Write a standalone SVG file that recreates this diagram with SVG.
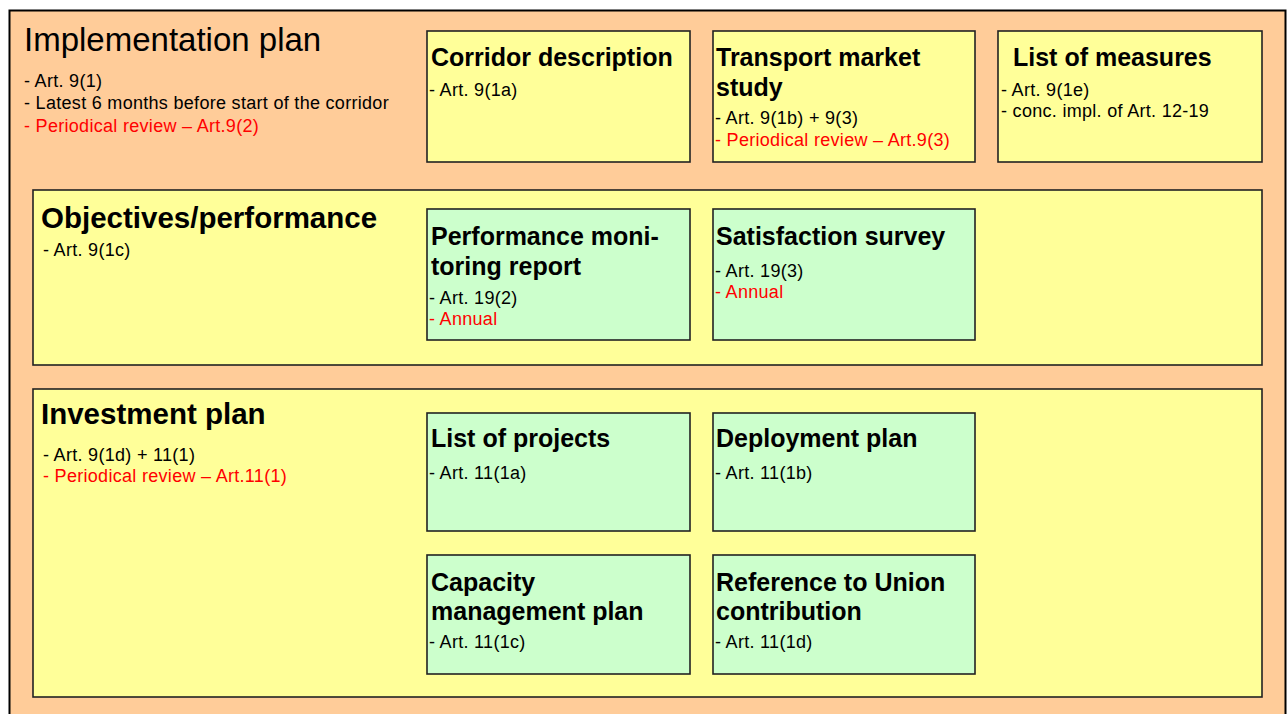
<svg xmlns="http://www.w3.org/2000/svg" width="1288" height="714" viewBox="0 0 1288 714">
<style>
.box{stroke:#222;stroke-width:1.6}
.peach{fill:#FFCC99}
.yel{fill:#FFFF99}
.grn{fill:#CCFFCC}
text{font-family:"Liberation Sans",Arial,sans-serif;fill:#000}
.h1{font-size:33px}
.h2{font-size:29.5px;font-weight:bold}
.h3{font-size:25px;font-weight:bold}
.s{font-size:18px;letter-spacing:0.3px}
.r{fill:#FF0000}
</style>
<rect width="1288" height="714" fill="#fff"/>
<g id="implementation-plan">
<rect x="9.5" y="10.5" width="1276" height="720" class="peach" stroke="#000" stroke-width="2"/>
<text x="24" y="51" class="h1">Implementation plan</text>
<text x="24" y="87" class="s">- Art. 9(1)</text>
<text x="24" y="109" class="s">- Latest 6 months before start of the corridor</text>
<text x="24" y="132" class="s r">- Periodical review – Art.9(2)</text>
</g>
<g id="corridor-description">
<rect x="427" y="31" width="263" height="131" class="box yel"/>
<text x="431" y="66" class="h3">Corridor description</text>
<text x="429" y="96" class="s">- Art. 9(1a)</text>
</g>
<g id="transport-market-study">
<rect x="713" y="31" width="262" height="131" class="box yel"/>
<text x="716" y="66" class="h3">Transport market</text>
<text x="716" y="96" class="h3">study</text>
<text x="715" y="124" class="s">- Art. 9(1b) + 9(3)</text>
<text x="715" y="146" class="s r">- Periodical review – Art.9(3)</text>
</g>
<g id="list-of-measures">
<rect x="998" y="31" width="264" height="131" class="box yel"/>
<text x="1013" y="66" class="h3">List of measures</text>
<text x="1001" y="96" class="s">- Art. 9(1e)</text>
<text x="1001" y="117" class="s">- conc. impl. of Art. 12-19</text>
</g>
<g id="objectives-performance">
<rect x="33" y="190" width="1229" height="175" class="box yel"/>
<text x="41" y="228" class="h2">Objectives/performance</text>
<text x="43" y="256" class="s">- Art. 9(1c)</text>
</g>
<g id="performance-monitoring-report">
<rect x="427" y="209" width="263" height="131" class="box grn"/>
<text x="431" y="245" class="h3">Performance moni-</text>
<text x="431" y="275" class="h3">toring report</text>
<text x="429" y="304" class="s">- Art. 19(2)</text>
<text x="429" y="325" class="s r">- Annual</text>
</g>
<g id="satisfaction-survey">
<rect x="713" y="209" width="262" height="131" class="box grn"/>
<text x="716" y="245" class="h3">Satisfaction survey</text>
<text x="715" y="277" class="s">- Art. 19(3)</text>
<text x="715" y="298" class="s r">- Annual</text>
</g>
<g id="investment-plan">
<rect x="33" y="389" width="1229" height="308" class="box yel"/>
<text x="41" y="424" class="h2">Investment plan</text>
<text x="43" y="461" class="s">- Art. 9(1d) + 11(1)</text>
<text x="43" y="482" class="s r">- Periodical review – Art.11(1)</text>
</g>
<g id="list-of-projects">
<rect x="427" y="413" width="263" height="118" class="box grn"/>
<text x="431" y="447" class="h3">List of projects</text>
<text x="429" y="479" class="s">- Art. 11(1a)</text>
</g>
<g id="deployment-plan">
<rect x="713" y="413" width="262" height="118" class="box grn"/>
<text x="716" y="447" class="h3">Deployment plan</text>
<text x="715" y="479" class="s">- Art. 11(1b)</text>
</g>
<g id="capacity-management-plan">
<rect x="427" y="555" width="263" height="119" class="box grn"/>
<text x="431" y="591" class="h3">Capacity</text>
<text x="431" y="620" class="h3">management plan</text>
<text x="429" y="648" class="s">- Art. 11(1c)</text>
</g>
<g id="reference-union-contribution">
<rect x="713" y="555" width="262" height="119" class="box grn"/>
<text x="716" y="591" class="h3">Reference to Union</text>
<text x="716" y="620" class="h3">contribution</text>
<text x="715" y="648" class="s">- Art. 11(1d)</text>
</g>
<g id="connectors"></g>
</svg>
